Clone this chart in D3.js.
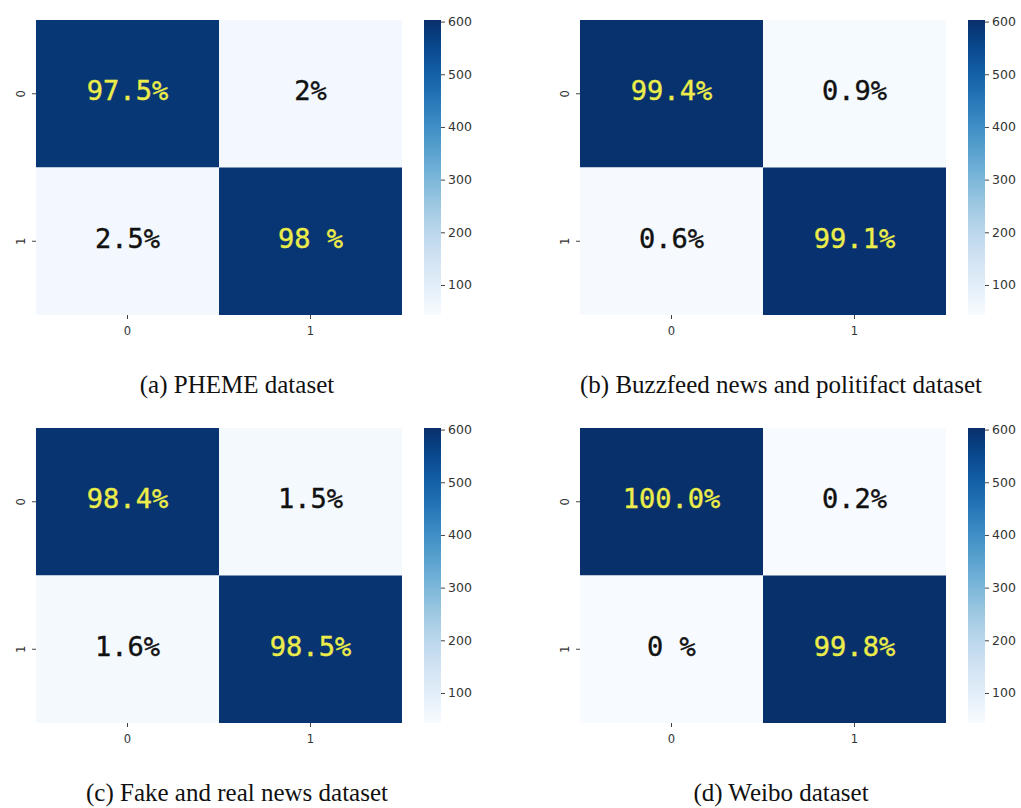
<!DOCTYPE html>
<html>
<head>
<meta charset="utf-8">
<script src="https://cdn.jsdelivr.net/npm/d3@7"></script>
<style>
  body { margin: 0; background: #fff; }
  svg { display: block; }
  .tick text { fill: #333; }
</style>
</head>
<body>
<svg id="chart" width="1021" height="808"></svg>
<script>
// Datos
const classes = ['0', '1'];
const captions = [
  '(a) PHEME dataset',
  '(b) Buzzfeed news and politifact dataset',
  '(c) Fake and real news dataset',
  '(d) Weibo dataset'
];
// porcentajes por celda [fila][columna]
const phemeValues = [[97.5, 2], [2.5, 98]];
const buzzValues = [[99.4, 0.9], [0.6, 99.1]];
const fakeRealValues = [[98.4, 1.5], [1.6, 98.5]];
const weiboValues = [[100.0, 0.2], [0, 99.8]];
// textos tal como aparecen
const phemeLabels = [['97.5%', '2%'], ['2.5%', '98 %']];
const buzzLabels = [['99.4%', '0.9%'], ['0.6%', '99.1%']];
const fakeRealLabels = [['98.4%', '1.5%'], ['1.6%', '98.5%']];
const weiboLabels = [['100.0%', '0.2%'], ['0 %', '99.8%']];
const colorbarTicks = [100, 200, 300, 400, 500, 600];
const colorbarDomain = [43, 603];

const panels = [
  { values: phemeValues, labels: phemeLabels, caption: captions[0], x: 36, y: 20 },
  { values: buzzValues, labels: buzzLabels, caption: captions[1], x: 580, y: 20 },
  { values: fakeRealValues, labels: fakeRealLabels, caption: captions[2], x: 36, y: 428 },
  { values: weiboValues, labels: weiboLabels, caption: captions[3], x: 580, y: 428 }
];

const W = 366, H = 295;
const svg = d3.select('#chart');

const defs = svg.append('defs');
const grad = defs.append('linearGradient')
  .attr('id', 'blues').attr('x1', 0).attr('y1', 1).attr('x2', 0).attr('y2', 0);
d3.range(0, 1.0001, 0.05).forEach(t => {
  grad.append('stop').attr('offset', t).attr('stop-color', d3.interpolateBlues(t));
});

const cellColor = d3.scaleSequential(d3.interpolateBlues).domain([0, 100]);

panels.forEach(p => {
  const g = svg.append('g').attr('transform', `translate(${p.x},${p.y})`);
  const x = d3.scaleBand().domain(classes).range([0, W]);
  const y = d3.scaleBand().domain(classes).range([0, H]);

  const cells = [];
  classes.forEach((r, i) => classes.forEach((c, j) => {
    cells.push({ r, c, v: p.values[i][j], t: p.labels[i][j] });
  }));

  g.selectAll('rect.cell').data(cells).enter().append('rect')
    .attr('class', 'cell')
    .attr('x', d => x(d.c)).attr('y', d => y(d.r))
    .attr('width', x.bandwidth()).attr('height', y.bandwidth())
    .attr('fill', d => cellColor(d.v));

  g.selectAll('text.val').data(cells).enter().append('text')
    .attr('class', 'val')
    .attr('x', d => x(d.c) + x.bandwidth() / 2)
    .attr('y', d => y(d.r) + y.bandwidth() / 2 - 3)
    .attr('text-anchor', 'middle')
    .attr('dominant-baseline', 'central')
    .style('font-family', '"DejaVu Sans Mono", monospace')
    .style('font-size', '27px')
    .attr('fill', d => d.v > 50 ? '#ecec4a' : '#111')
    .attr('stroke', d => d.v > 50 ? '#ecec4a' : '#111')
    .attr('stroke-width', 0.4)
    .text(d => d.t);

  // ejes
  const xAxis = g.append('g').attr('transform', `translate(0,${H})`)
    .call(d3.axisBottom(x).tickSize(4).tickPadding(8));
  xAxis.select('.domain').remove();
  xAxis.selectAll('text').style('font-family', '"DejaVu Sans", sans-serif').style('font-size', '11.5px');
  xAxis.selectAll('line').attr('stroke', '#444');

  const yAxis = g.append('g').call(d3.axisLeft(y).tickSize(4).tickPadding(6));
  yAxis.select('.domain').remove();
  yAxis.selectAll('line').attr('stroke', '#444');
  yAxis.selectAll('text')
    .style('font-family', '"DejaVu Sans", sans-serif').style('font-size', '11.5px')
    .attr('text-anchor', 'middle')
    .attr('transform', 'rotate(-90)')
    .attr('x', 0).attr('y', -15).attr('dy', '0.32em');

  // barra de color
  const cb = g.append('g').attr('transform', `translate(${W + 22},0)`);
  cb.append('rect').attr('width', 17).attr('height', H).attr('fill', 'url(#blues)');
  const cScale = d3.scaleLinear().domain(colorbarDomain).range([H, 0]);
  const cAxis = cb.append('g').attr('transform', 'translate(17,0)')
    .call(d3.axisRight(cScale).tickValues(colorbarTicks).tickSize(4).tickPadding(3));
  cAxis.select('.domain').remove();
  cAxis.selectAll('line').attr('stroke', '#444');
  cAxis.selectAll('text').style('font-family', '"DejaVu Sans", sans-serif').style('font-size', '12.5px');

  // título
  g.append('text')
    .attr('x', W / 2 + 18).attr('y', H + 78)
    .attr('text-anchor', 'middle')
    .style('font-family', '"Liberation Serif", "Times New Roman", serif')
    .style('font-size', '25px')
    .attr('fill', '#111')
    .text(p.caption);
});
</script>
</body>
</html>
